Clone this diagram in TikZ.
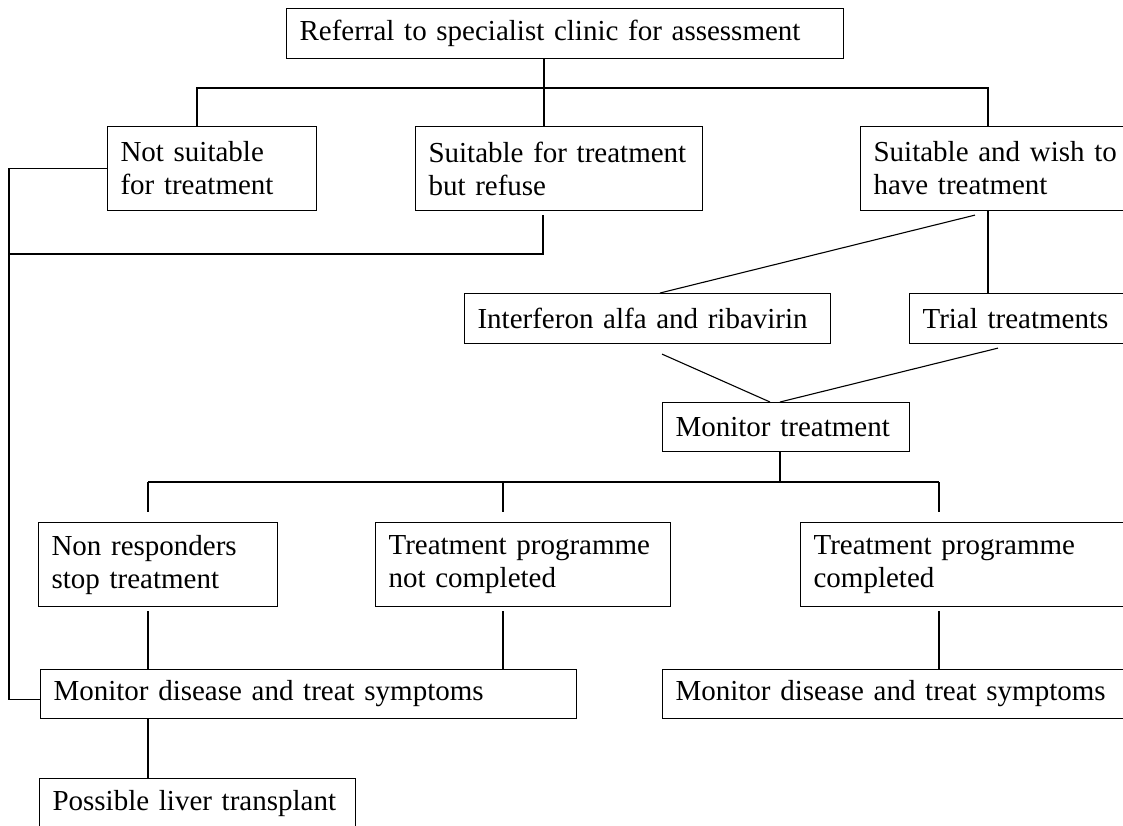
\documentclass[tikz,border=0pt]{standalone}
\usepackage{fontspec}
\setmainfont{Liberation Serif}
\usetikzlibrary{calc}
\hyphenpenalty=10000

\begin{document}
\begin{tikzpicture}[x=1pt,y=-1pt,line width=1.1pt,
  box/.style={draw,anchor=north west,align=left,inner xsep=13pt,inner ysep=0pt,
    font=\fontsize{29}{33}\selectfont}]
 \clip (0,0) rectangle (1123,826);
 % boxes
 \node[box,text width=531pt,minimum height=50pt] (ref) at (286,8)
   {Referral to specialist clinic for assessment};
 \node[box,text width=183pt,minimum height=84pt] (nosuit) at (107,126)
   {Not suitable\\for treatment};
 \node[box,text width=261pt,minimum height=84pt] (refuse) at (415,126)
   {Suitable for treatment\\but refuse};
 \node[box,text width=274pt,minimum height=84pt] (wish) at (860,126)
   {Suitable and wish to\\have treatment};
 \node[box,text width=340pt,minimum height=50pt] (interf) at (464,293)
   {Interferon alfa and ribavirin};
 \node[box,text width=224pt,minimum height=50pt] (trial) at (909,293)
   {Trial treatments};
 \node[box,text width=221pt,minimum height=49pt] (montreat) at (662,402)
   {Monitor treatment};
 \node[box,text width=213pt,minimum height=84pt] (nonresp) at (38,522)
   {Non responders\\stop treatment};
 \node[box,text width=269pt,minimum height=84pt] (notcomp) at (375,522)
   {Treatment programme\\not completed};
 \node[box,text width=324pt,minimum height=84pt] (comp) at (800,522)
   {Treatment programme\\completed};
 \node[box,text width=510pt,minimum height=49pt] (mondis) at (40,669)
   {Monitor disease and treat symptoms};
 \node[box,text width=454pt,minimum height=49pt] (mondisb) at (662,669)
   {Monitor disease and treat symptoms};
 \node[box,text width=290pt,minimum height=50pt] (liver) at (39,778)
   {Possible liver transplant};
 % junctions
 \coordinate (ta) at (197,88);
 \coordinate (tb) at (544,88);
 \coordinate (tc) at (988,88);
 \coordinate (la) at (9,254);
 \coordinate (lb) at (543,254);
 \coordinate (ma) at (148,482);
 \coordinate (mb) at (503,482);
 \coordinate (mc) at (939,482);
 \coordinate (md) at (780,482);
 % top level
 \draw (tb |- ref.south) -- (tb);
 \draw (ta |- nosuit.north) -- (ta) -- (tc) -- (tc |- wish.north);
 \draw (tb) -- (tb |- refuse.north);
 % not treated
 \draw (nosuit.west) -| (la) |- ($(mondis.west)+(0,5)$);
 \draw[shorten <=4pt] (lb |- refuse.south) -- (lb) -- (la);
 % treatment
 \draw (tc |- wish.south) -- (tc |- trial.north);
 \draw ($(wish.south west)+(115,4)$) -- ($(interf.north west)+(196,0)$);
 \draw ($(interf.south west)+(198,10)$) -- ($(montreat.north west)+(108,0)$);
 \draw ($(trial.south west)+(89,4)$) -- ($(montreat.north west)+(118,0)$);
 % outcomes
 \draw (md |- montreat.south) -- (md);
 \draw (ma) -- (mc);
 \foreach \j/\b in {ma/nonresp,mb/notcomp,mc/comp}
   \draw[shorten >=10pt] (\j) -- (\j |- \b.north);
 \draw[shorten <=4pt] (ma |- nonresp.south) -- (ma |- mondis.north);
 \draw[shorten <=4pt] (mb |- notcomp.south) -- (mb |- mondis.north);
 \draw[shorten <=4pt] (mc |- comp.south) -- (mc |- mondisb.north);
 \draw (ma |- mondis.south) -- (ma |- liver.north);
\end{tikzpicture}
\end{document}
